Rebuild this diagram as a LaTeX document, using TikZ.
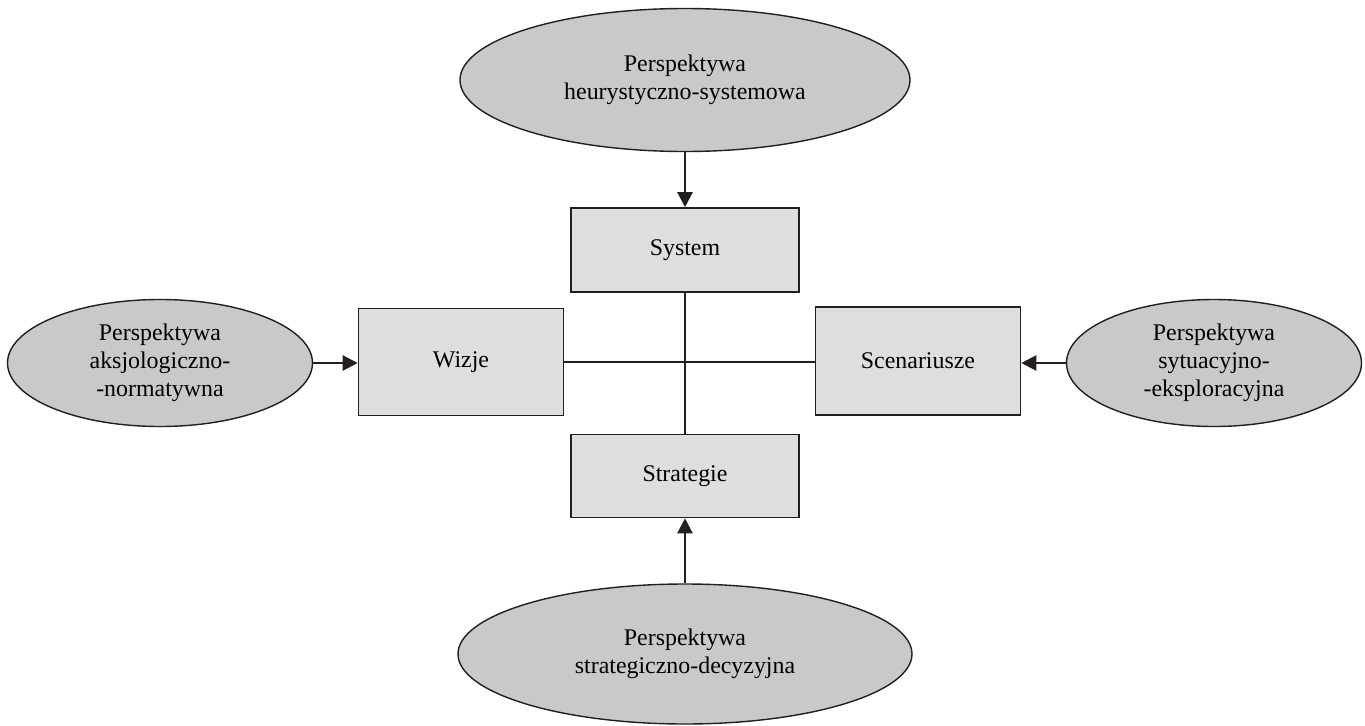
\documentclass[tikz,border=0pt]{standalone}
\usepackage{fontspec}
\setmainfont{Liberation Serif}
\usetikzlibrary{shapes.geometric,arrows.meta}
\definecolor{ellgray}{RGB}{200,201,203}
\definecolor{boxgray}{RGB}{221,222,224}
\definecolor{ink}{RGB}{35,31,32}
\tikzset{
  box/.style={draw=ink, line width=0.9pt, fill=boxgray, inner sep=0pt, align=center},
  persp/.style={ellipse, draw=ink, line width=0.8pt, fill=ellgray, inner sep=0pt, align=center},
  feed/.style={draw=ink, line width=1.3pt, -{Triangle[length=0.3cm,width=0.3cm]}},
  link/.style={draw=ink, line width=0.7pt}
}
\begin{document}
\begin{tikzpicture}[font=\fontsize{13.6}{16}\selectfont]
\useasboundingbox (0,0) rectangle (27.3,-14.52);

\node (sys) at (13.7,-5.0)[box, minimum width=4.56cm, minimum height=1.68cm] {System};
\node (wiz) at (9.22,-7.24)[box, minimum width=4.1cm, minimum height=2.14cm] {Wizje};
\node (scen) at (18.36,-7.22)[box, minimum width=4.1cm, minimum height=2.16cm] {Scenariusze};
\node (strat) at (13.7,-9.52)[box, minimum width=4.56cm, minimum height=1.66cm] {Strategie};

\node (heur) at (13.7,-1.6)[persp, minimum width=9.0cm, minimum height=2.86cm] {Perspektywa\\heurystyczno-systemowa};
\node (aks) at (3.2,-7.26)[persp, minimum width=6.1cm, minimum height=2.54cm] {Perspektywa\\aksjologiczno-\\-normatywna};
\node (syt) at (24.28,-7.26)[persp, minimum width=5.9cm, minimum height=2.54cm] {Perspektywa\\sytuacyjno-\\-eksploracyjna};
\node (dec) at (13.7,-13.08)[persp, minimum width=9.08cm, minimum height=2.8cm] {Perspektywa\\strategiczno-decyzyjna};

\draw[link] (sys.south) -- (strat.north);
\draw[link] (wiz.east) -- (wiz.east -| scen.west);

\draw[feed] (heur.south) -- (sys.north);
\draw[feed] (aks.east) -- (aks.east -| wiz.west);
\draw[feed] (syt.west) -- (syt.west -| scen.east);
\draw[feed] (dec.north) -- (strat.south);
\end{tikzpicture}
\end{document}
